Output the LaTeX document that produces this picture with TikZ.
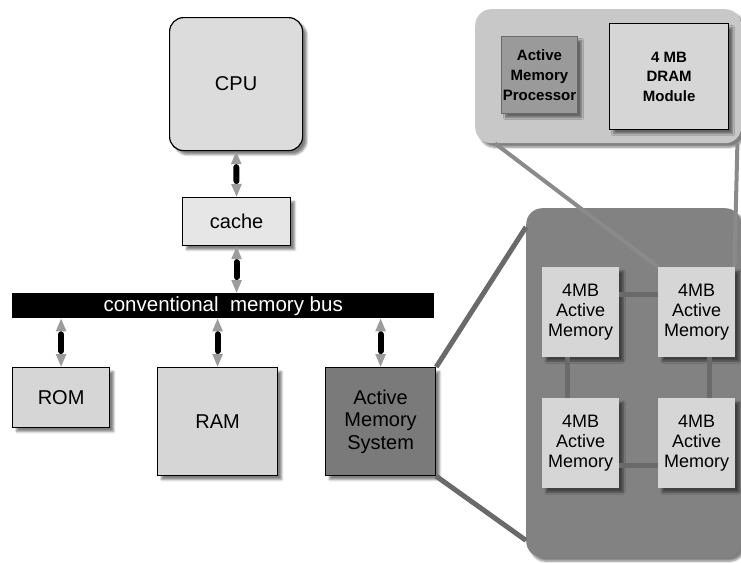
\documentclass[tikz,border=0pt]{standalone}
\usepackage{fontspec}
\setmainfont{Liberation Sans}
\usetikzlibrary{shadows.blur,arrows.meta,calc}
\definecolor{boxgray}{HTML}{D6D6D6}
\definecolor{cpugray}{HTML}{DCDCDC}
\definecolor{cachegray}{HTML}{E6E6E6}
\definecolor{amsgray}{HTML}{7A7A7A}
\definecolor{panelgray}{HTML}{828282}
\definecolor{toppanel}{HTML}{C8C8C8}
\definecolor{ampgray}{HTML}{9A9A9A}
\definecolor{linkgray}{HTML}{6A6A6A}
\definecolor{zoomgray}{HTML}{8A8A8A}
\definecolor{arrowgray}{HTML}{9C9C9C}
\tikzset{
  shade/.style={blur shadow={shadow xshift=4pt, shadow yshift=-4pt, shadow blur steps=6, shadow opacity=50}},
  box/.style={draw=black, line width=1.2pt, fill=boxgray, anchor=north west, inner sep=0pt, align=center, font=\fontsize{20}{22.5}\selectfont, shade},
  membox/.style={draw=none, fill=boxgray, anchor=north west, inner sep=0pt, align=center, minimum width=77pt, minimum height=90pt, font=\fontsize{18}{20}\selectfont, shade},
  busarrow/.style={draw=arrowgray, line width=2.5pt, {Triangle[width=10pt,length=13pt]}-{Triangle[width=10pt,length=13pt]},
     postaction={draw=black, line width=6pt, line cap=round, -, shorten >=16pt, shorten <=16pt}},
  link/.style={draw=linkgray, line width=5pt},
  zoomline/.style={draw=zoomgray, line width=4pt},
}
\begin{document}
\begin{tikzpicture}[x=1pt,y=-1pt]
\useasboundingbox (0,0) rectangle (741,562);
% top panel
\node[draw=none, fill=toppanel, rounded corners=16pt, anchor=north west, minimum width=266pt, minimum height=134pt, inner sep=0pt, shade] (tp) at (475,9) {};
\node[draw=linkgray, line width=1pt, fill=ampgray, anchor=north west, minimum width=76pt, minimum height=77pt, inner sep=0pt, align=center, font=\bfseries\fontsize{15}{20}\selectfont, shade] (amp) at (501,36) {Active\\Memory\\Processor};
\node[draw=black, line width=1.2pt, fill=boxgray, anchor=north west, minimum width=119pt, minimum height=106pt, inner sep=0pt, align=center, font=\bfseries\fontsize{15}{19.5}\selectfont, shade] (dram) at (609,23) {4 MB\\DRAM\\Module};
% big panel
\node[draw=none, fill=panelgray, rounded corners=16pt, anchor=north west, minimum width=215pt, minimum height=349pt, inner sep=0pt, shade] (bp) at (526,208) {};
% memory boxes
\node[membox] (tl) at (542,267) {4MB\\Active\\Memory};
\node[membox] (tr) at (658,267) {4MB\\Active\\Memory};
\node[membox] (bl) at (542,398) {4MB\\Active\\Memory};
\node[membox] (br) at (658,398) {4MB\\Active\\Memory};
% links between memories
\draw[link] ($(tl.east)+(0,-18)$) -- ($(tr.west)+(0,-18)$);
\draw[link] ($(bl.east)+(0,22)$) -- ($(br.west)+(0,22)$);
\draw[link] ($(tl.south)+(-13,0)$) -- ($(bl.north)+(-13,0)$);
\draw[link] ($(tr.south)+(13,0)$) -- ($(br.north)+(13,0)$);
% zoom lines from top panel to top-right memory
\draw[zoomline] ($(tp.south west)+(20,0)$) -- (tr.north west);
\draw[zoomline] ($(tp.south east)+(-4,0)$) -- ($(tr.north east)+(-1,0)$);
% left side
\node[box, fill=cpugray, rounded corners=14pt, minimum width=133pt, minimum height=133pt] (cpu) at (169,17) {CPU};
\node[box, fill=cachegray, minimum width=108pt, minimum height=48pt] (cache) at (182,197) {cache};
\node[draw=none, fill=black, anchor=north west, minimum width=422pt, minimum height=25pt, inner sep=0pt, text=white, font=\fontsize{20.5}{22}\selectfont] (bus) at (12,293) {conventional\ \ memory bus};
\node[box, minimum width=97pt, minimum height=60pt] (rom) at (12,367) {ROM};
\node[box, minimum width=120pt, minimum height=108pt] (ram) at (157,367) {RAM};
\node[box, fill=amsgray, minimum width=110pt, minimum height=108pt] (ams) at (325,367) {Active\\Memory\\System};
% zoom lines from AMS to big panel
\draw[zoomline, line width=5pt, draw=linkgray] (ams.north east) -- ($(bp.north west)+(0,19)$);
\draw[zoomline, line width=5pt, draw=linkgray] (ams.south east) -- ($(bp.south west)+(0,-17)$);
% bus arrows
\draw[busarrow] (cpu.south) -- (cache.north);
\draw[busarrow] (cache.south) -- (cache.south |- bus.north);
\draw[busarrow] (bus.south -| rom.north) -- (rom.north);
\draw[busarrow] (bus.south -| ram.north) -- (ram.north);
\draw[busarrow] (bus.south -| ams.north) -- (ams.north);
\end{tikzpicture}
\end{document}
